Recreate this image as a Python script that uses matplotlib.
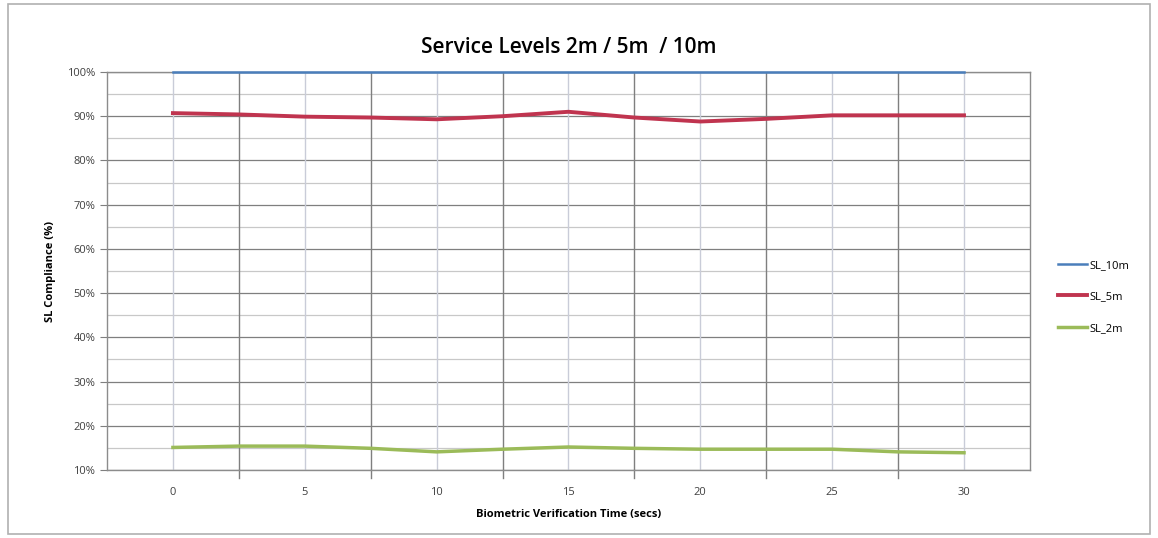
import matplotlib.pyplot as plt
import numpy as np
from matplotlib.patches import Rectangle

# Dane
czas = [0, 2.5, 5, 7.5, 10, 12.5, 15, 17.5, 20, 22.5, 25, 27.5, 30]
sl_10m = [100, 100, 100, 100, 100, 100, 100, 100, 100, 100, 100, 100, 100]
sl_5m = [90.7, 90.4, 89.9, 89.7, 89.3, 90.0, 91.0, 89.7, 88.8, 89.4, 90.2, 90.2, 90.2]
sl_2m = [15.1, 15.4, 15.4, 14.9, 14.1, 14.7, 15.2, 14.9, 14.7, 14.7, 14.7, 14.1, 13.9]

x_ticks = [0, 5, 10, 15, 20, 25, 30]
y_ticks = [10, 20, 30, 40, 50, 60, 70, 80, 90, 100]

plt.rcParams['font.family'] = ['Open Sans', 'DejaVu Sans']

fig = plt.figure(figsize=(11.58, 5.38), dpi=100)
fig.patches.append(Rectangle((0.007, 0.008), 0.986, 0.984, transform=fig.transFigure,
                             fill=False, edgecolor='#b0b0b0', linewidth=1.2))

ax = fig.add_axes([0.0924, 0.1264, 0.797, 0.7398])

# siatka
for y in np.arange(15, 100, 10):
    ax.axhline(y, color='#c8c8c8', linewidth=0.9, zorder=0)
for y in y_ticks:
    ax.axhline(y, color='#7f7f7f', linewidth=0.9, zorder=0)
for x in x_ticks:
    ax.axvline(x, color='#c9ccd8', linewidth=1.0, zorder=0)
for x in np.arange(2.5, 30, 5):
    ax.axvline(x, color='#7f7f7f', linewidth=1.0, zorder=0)

ax.plot(czas, sl_10m, color='#4a7ebb', linewidth=1.8, label='SL_10m', zorder=3, clip_on=False)
ax.plot(czas, sl_5m, color='#c0344f', linewidth=2.8, label='SL_5m', zorder=3)
ax.plot(czas, sl_2m, color='#9bbb59', linewidth=2.5, label='SL_2m', zorder=3)

ax.set_xlim(-2.5, 32.5)
ax.set_ylim(10, 100)
ax.set_xticks(x_ticks)
ax.set_yticks(y_ticks)
ax.set_yticklabels([f'{v}%' for v in y_ticks])
ax.tick_params(axis='x', length=0, pad=12, labelsize=8, labelcolor='#404040')
ax.tick_params(axis='y', length=5, color='#7f7f7f', labelsize=8, labelcolor='#404040')
for x in np.arange(2.5, 30, 5):
    ax.plot([x, x], [10, 8.2], color='#7f7f7f', linewidth=1.0, clip_on=False)

for s in ax.spines.values():
    s.set_color('#8c8c8c')
    s.set_linewidth(1.0)

ax.set_title('Service Levels 2m / 5m  / 10m', fontsize=15, fontweight='semibold', pad=14)
ax.set_xlabel('Biometric Verification Time (secs)', fontsize=8, fontweight='bold', labelpad=8)
ax.set_ylabel('SL Compliance (%)', fontsize=8, fontweight='bold', labelpad=8)

ax.legend(loc='center left', bbox_to_anchor=(1.02, 0.435), frameon=False, fontsize=8,
          handlelength=2.6, handletextpad=0.2, labelspacing=1.85)

fig.savefig('out.png', dpi=100)
